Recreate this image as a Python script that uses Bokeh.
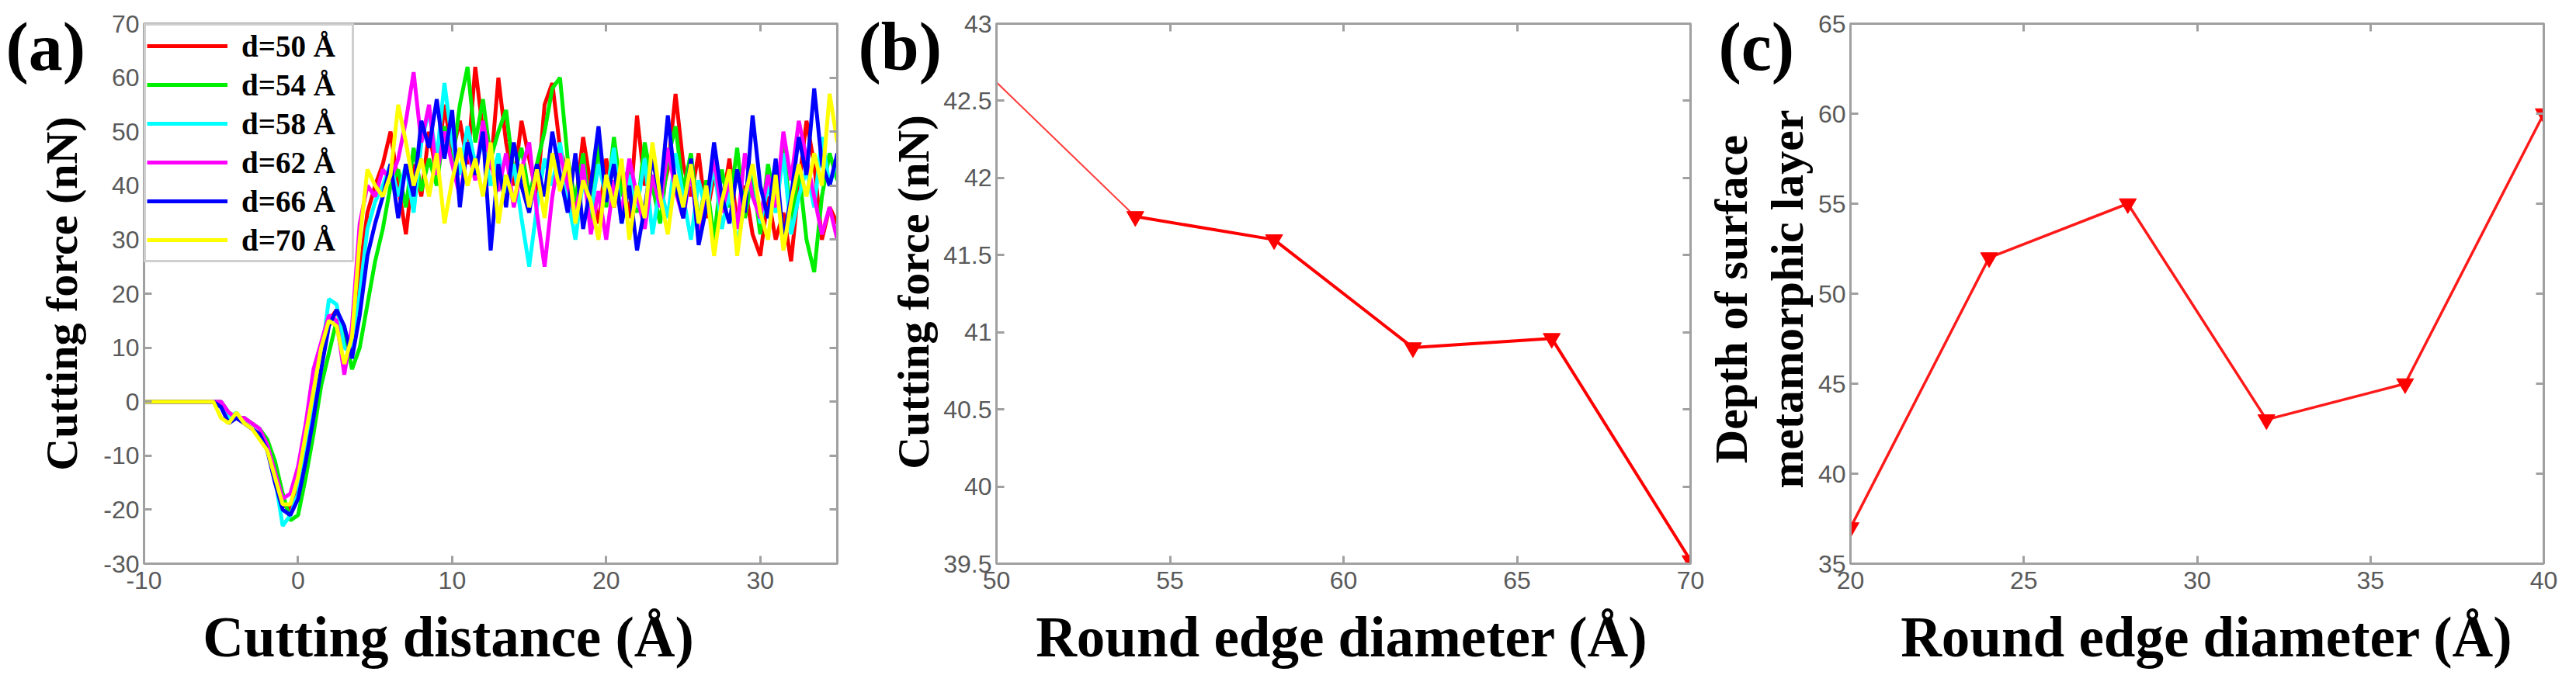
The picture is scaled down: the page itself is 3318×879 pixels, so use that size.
import math
from bokeh.plotting import figure
from bokeh.models import Range1d, LinearAxis, FixedTicker, Label
from bokeh.layouts import row, column
from bokeh.embed import file_html
from bokeh.resources import INLINE

# ---------------- data ----------------
# (a) cutting force vs cutting distance, sampled every 0.5 A from -10 to 35
dist = [-10 + 0.5 * i for i in range(91)]
f_d50 = [0, 0, 0, 0, 0, 0, 0, 0, 0, 0,
         -1, -3, -3, -4, -5, -6, -9, -14, -19, -20, -15, -8, -1, 9, 15, 17, 12, 10, 24, 35, 40, 44, 50,
         40, 31, 44, 38, 50, 42, 55, 46, 52, 44, 62, 50, 43, 60, 48, 40, 52, 45, 38, 55,
         59, 47, 42, 36, 49, 40, 33, 45, 36, 42, 34, 53, 40, 46, 37, 43, 57, 44, 38, 46,
         34, 42, 36, 45, 33, 40, 31, 27, 38, 30, 35, 26, 40, 52, 44, 30, 36, 33]
f_d54 = [0, 0, 0, 0, 0, 0, 0, 0, 0, 0,
         0, -2, -3, -3, -4, -5, -7, -11, -17, -22, -21, -14, -6, 3, 9, 15, 13, 6, 10, 18, 26, 32, 40,
         43, 36, 47, 39, 45, 40, 51, 44, 55, 62, 48, 56, 45, 50, 54, 42, 47, 38, 44, 50,
         58, 60, 45, 37, 46, 33, 48, 36, 49, 38, 44, 35, 48, 40, 33, 45, 51, 39, 46, 33,
         41, 30, 43, 36, 47, 34, 42, 31, 44, 36, 48, 33, 43, 30, 24, 38, 46, 41]
f_d58 = [0, 0, 0, 0, 0, 0, 0, 0, 0, 0,
         -1, -3, -2, -4, -5, -6, -9, -14, -23, -21, -17, -9, -2, 8, 19, 18, 10, 9, 20, 32, 37, 40, 44,
         38, 44, 35, 48, 54, 45, 59, 48, 42, 51, 44, 48, 40, 46, 38, 44, 34, 25, 36, 45,
         40, 48, 38, 30, 41, 35, 44, 38, 47, 33, 42, 36, 45, 31, 40, 34, 46, 38, 30, 41,
         35, 44, 32, 39, 29, 37, 44, 33, 40, 35, 46, 31, 38, 43, 36, 49, 40, 45]
f_d62 = [0, 0, 0, 0, 0, 0, 0, 0, 0, 0,
         0, -2, -3, -3, -4, -5, -8, -13, -18, -17, -12, -4, 6, 11, 16, 15, 5, 14, 33, 40, 38, 43, 41,
         45, 52, 61, 48, 55, 42, 50, 44, 38, 47, 41, 52, 44, 39, 46, 36, 43, 48, 35, 25,
         38, 46, 40, 34, 44, 31, 39, 30, 41, 35, 45, 38, 32, 42, 36, 47, 39, 34, 43, 30,
         38, 45, 35, 41, 32, 46, 38, 34, 42, 36, 50, 41, 52, 45, 38, 31, 36, 30]
f_d66 = [0, 0, 0, 0, 0, 0, 0, 0, 0, 0,
         -1, -4, -3, -4, -5, -6, -9, -15, -20, -21, -18, -11, -3, 6, 14, 17, 14, 8, 16, 27, 33, 38, 44,
         34, 44, 38, 52, 47, 56, 45, 54, 36, 48, 42, 50, 28, 44, 36, 48, 40, 35, 44, 38,
         50, 42, 35, 46, 32, 40, 51, 37, 44, 33, 40, 28, 36, 45, 38, 53, 40, 34, 45, 29,
         36, 48, 38, 33, 43, 35, 53, 40, 34, 45, 30, 38, 49, 42, 58, 44, 40, 46]
f_d70 = [0, 0, 0, 0, 0, 0, 0, 0, 0, 0,
         -3, -4, -2, -4, -5, -7, -9, -14, -19, -19, -14, -6, 2, 10, 15, 14, 7, 12, 30, 43, 40, 38, 42,
         55, 48, 40, 45, 38, 46, 33, 41, 47, 40, 45, 38, 48, 33, 42, 37, 44, 36, 43, 34,
         46, 39, 45, 33, 41, 37, 30, 42, 36, 45, 30, 40, 34, 48, 38, 31, 42, 36, 44, 33,
         40, 27, 37, 43, 27, 38, 44, 35, 30, 42, 28, 37, 44, 38, 46, 40, 57, 48]
series_a = [("d=50 Å", f_d50, "#ff0000"), ("d=54 Å", f_d54, "#00ee00"),
            ("d=58 Å", f_d58, "#00ffff"), ("d=62 Å", f_d62, "#ff00ff"),
            ("d=66 Å", f_d66, "#0000ff"), ("d=70 Å", f_d70, "#ffff00")]

# (b) average cutting force vs round edge diameter
b_diam = [50, 54, 58, 62, 66, 70]
b_force = [42.62, 41.75, 41.60, 40.90, 40.96, 39.52]

# (c) depth of surface metamorphic layer vs round edge diameter
c_diam = [20, 24, 28, 32, 36, 40]
c_depth = [37, 52, 55, 43, 45, 60]

# ticks
a_xticks = [-10, 0, 10, 20, 30]
a_yticks = [-30, -20, -10, 0, 10, 20, 30, 40, 50, 60, 70]
b_xticks = [50, 55, 60, 65, 70]
b_yticks = [39.5, 40, 40.5, 41, 41.5, 42, 42.5, 43]
c_xticks = [20, 25, 30, 35, 40]
c_yticks = [35, 40, 45, 50, 55, 60, 65]

# ---------------- style ----------------
SERIF = "Liberation Serif"
SANS = "Liberation Sans"
FRAME = "#a0a0a0"
TICKTXT = "#5a5a5a"
MAIN_H = 778     # height of the plotting figures
BOT_H = 101      # height of the strip that carries the x titles


def fmt(v):
    return str(int(v)) if float(v).is_integer() else str(v)


def no_align(p):
    if hasattr(p, "frame_align"):
        p.frame_align = False


def make_fig(width, left, right, xr, yr, xticks, yticks):
    p = figure(width=width, height=MAIN_H, x_range=Range1d(*xr), y_range=Range1d(*yr),
               output_backend="svg", toolbar_location=None,
               x_axis_location=None, y_axis_location=None,
               min_border_left=left, min_border_right=right,
               min_border_top=30, min_border_bottom=52)
    p.title_location = None
    p.grid.visible = False
    p.outline_line_color = FRAME
    p.outline_line_width = 3
    no_align(p)
    for loc, ticks in [("below", xticks), ("above", xticks), ("left", yticks), ("right", yticks)]:
        shown = loc in ("below", "left")
        ax = LinearAxis(ticker=FixedTicker(ticks=ticks, minor_ticks=[]),
                        axis_line_color=FRAME, axis_line_width=3,
                        major_tick_line_color=FRAME, major_tick_line_width=3,
                        major_tick_in=10, major_tick_out=0,
                        minor_tick_line_color=None,
                        major_label_text_font=SANS,
                        major_label_text_color=TICKTXT)
        if shown:
            ax.major_label_text_font_size = "32px"
            ax.major_label_standoff = 10 if loc == "below" else 6
            ax.major_label_overrides = {t: fmt(t) for t in ticks}
        else:
            ax.major_label_text_font_size = "0px"
            ax.major_label_standoff = 0
            ax.major_label_overrides = {t: "" for t in ticks}
        p.add_layout(ax, loc)
    return p


def make_strip(width, height):
    s = figure(width=width, height=height, x_range=Range1d(0, 1), y_range=Range1d(0, 1),
               output_backend="svg", toolbar_location=None,
               x_axis_location=None, y_axis_location=None,
               min_border_left=0, min_border_right=0, min_border_top=0, min_border_bottom=0)
    s.title_location = None
    s.grid.visible = False
    s.outline_line_color = None
    no_align(s)
    return s


def add_text(p, text, x, y, size, angle=0.0, align="center", baseline="middle"):
    p.add_layout(Label(x=x, y=y, x_units="screen", y_units="screen", text=text,
                       angle=angle, text_align=align, text_baseline=baseline,
                       text_font=SERIF, text_font_style="bold",
                       text_font_size=f"{size}px", text_color="black"))


# ---------------- panel (a) ----------------
pa = make_fig(962, 57, 12, (-10, 35), (-30, 70), a_xticks, a_yticks)
for name, ys, col in series_a:
    pa.line(dist, ys, line_color=col, line_width=5, legend_label=name)
lg = pa.legend[0]
lg.location = "top_left"
lg.margin = 0
lg.padding = 1
lg.spacing = 0
lg.glyph_width = 104
lg.glyph_height = 50
lg.label_height = 50
lg.label_width = 141
lg.label_standoff = 18
lg.label_text_font = SERIF
lg.label_text_font_style = "bold"
lg.label_text_font_size = "39px"
lg.label_text_color = "black"
lg.border_line_color = FRAME
lg.border_line_width = 3
lg.background_fill_alpha = 1.0

sa = make_strip(128, MAIN_H)
add_text(sa, "(a)", 7, 718, 88, align="left")
add_text(sa, "Cutting force (nN)", 79, 400, 58, angle=math.pi / 2)
ba = make_strip(1090, BOT_H)
add_text(ba, "Cutting distance (Å)", 577, 18, 73, baseline="bottom")

# ---------------- panel (b) ----------------
pb = make_fig(983, 71, 18, (50, 70), (39.5, 43), b_xticks, b_yticks)
pb.line(b_diam[:2], b_force[:2], line_color="#ff3c3c", line_width=2)
pb.line(b_diam[1:], b_force[1:], line_color="#ff0000", line_width=4)
pb.scatter(b_diam[1:], b_force[1:], marker="inverted_triangle", size=22,
           fill_color="#ff0000", line_color="#ff0000")
sb = make_strip(122, MAIN_H)
add_text(sb, "(b)", 15, 718, 88, align="left")
add_text(sb, "Cutting force (nN)", 86, 402, 58, angle=math.pi / 2)
bb = make_strip(1105, BOT_H)
add_text(bb, "Round edge diameter (Å)", 638, 18, 73, baseline="bottom")

# ---------------- panel (c) ----------------
pc = make_fig(981, 46, 42, (20, 40), (35, 65), c_xticks, c_yticks)
pc.line(c_diam, c_depth, line_color="#ff1a1a", line_width=3.5)
pc.scatter(c_diam, c_depth, marker="inverted_triangle", size=22,
           fill_color="#ff0000", line_color="#ff0000")
sc = make_strip(142, MAIN_H)
add_text(sc, "(c)", 18, 718, 88, align="left")
add_text(sc, "Depth of surface", 34, 393, 60, angle=math.pi / 2)
add_text(sc, "metamorphic layer", 106, 393, 60, angle=math.pi / 2)
bc = make_strip(1123, BOT_H)
add_text(bc, "Round edge diameter (Å)", 647, 18, 73, baseline="bottom")

layout = row(
    column(row(sa, pa, spacing=0), ba, spacing=0),
    column(row(sb, pb, spacing=0), bb, spacing=0),
    column(row(sc, pc, spacing=0), bc, spacing=0),
    spacing=0,
)
open("out.html", "w").write(file_html(layout, INLINE))
